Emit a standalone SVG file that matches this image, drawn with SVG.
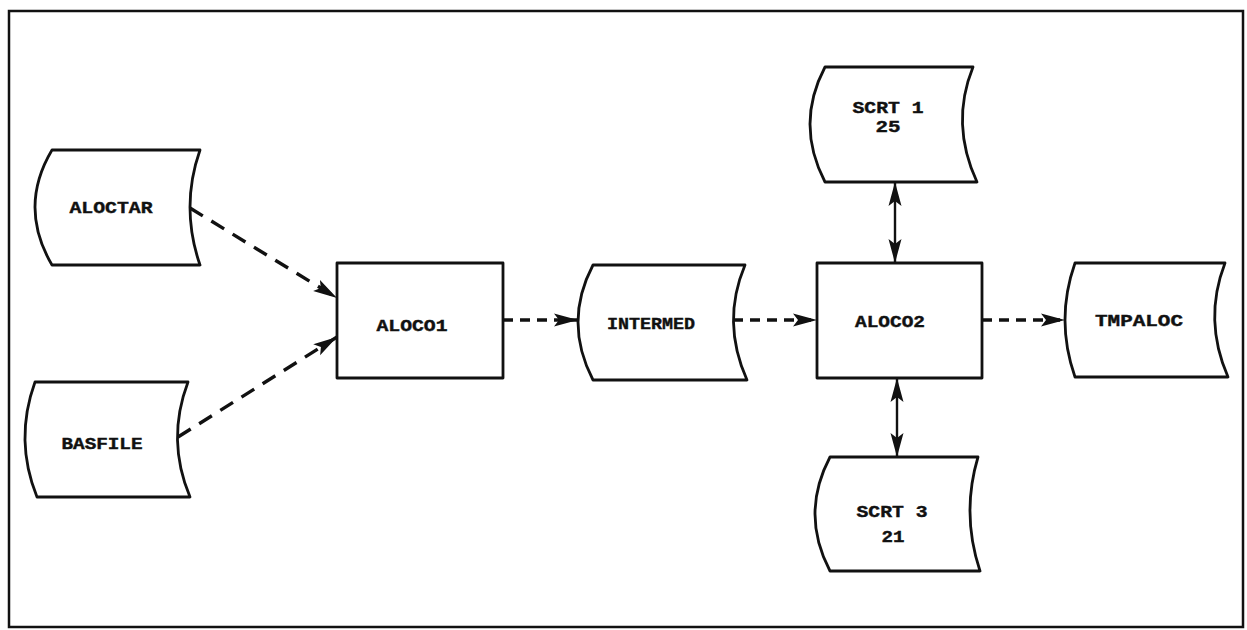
<svg xmlns="http://www.w3.org/2000/svg" width="1247" height="630" viewBox="0 0 1247 630">
<style>
.frame{fill:none;stroke:#111;stroke-width:2.5}
.node{fill:#fff;stroke:#111;stroke-width:2.8;stroke-linejoin:round}
.lbl{font-family:"Liberation Mono","DejaVu Sans Mono",monospace;font-weight:bold;font-size:16px;fill:#111;text-anchor:middle;stroke:#111;stroke-width:0.4}
.dash{fill:none;stroke:#111;stroke-width:3.4;stroke-dasharray:15 10}
.hdash{fill:none;stroke:#111;stroke-width:3.4;stroke-dasharray:10 7}
.solid{fill:none;stroke:#111;stroke-width:2.4}
</style>
<defs>
<marker id="ah" viewBox="0 0 24 14" refX="24" refY="7" markerWidth="24" markerHeight="14" markerUnits="userSpaceOnUse" orient="auto">
<path d="M0,0.5 L24,7 L0,13.5 L5,7 Z" fill="#111"/>
</marker>
<marker id="ahs" viewBox="0 0 24 14" refX="24" refY="7" markerWidth="24" markerHeight="14" markerUnits="userSpaceOnUse" orient="auto-start-reverse">
<path d="M0,0.5 L24,7 L0,13.5 L5,7 Z" fill="#111"/>
</marker>
</defs>
<rect width="1247" height="630" fill="#fff"/>
<rect class="frame" x="9" y="11" width="1234" height="616"/>

<g id="connectors">
<path class="dash" d="M190,208 L337,298" marker-end="url(#ah)"/>
<path class="dash" d="M178,437 L337,337" marker-end="url(#ah)"/>
<path class="hdash" d="M503,320 L578,320" marker-end="url(#ah)"/>
<path class="hdash" d="M733,320 L817,320" marker-end="url(#ah)"/>
<path class="hdash" d="M982,320 L1065,320" marker-end="url(#ah)"/>
<path class="solid" d="M895,182 L895,263" marker-start="url(#ahs)" marker-end="url(#ah)"/>
<path class="solid" d="M897,378 L897,457" marker-start="url(#ahs)" marker-end="url(#ah)"/>
</g>

<g id="ALOCTAR">
<path class="node" d="M52,150 L200,150 Q180,207 200,265 L52,265 Q18,207 52,150 Z"/>
<text class="lbl" x="111" y="213" textLength="83" lengthAdjust="spacingAndGlyphs">ALOCTAR</text>
</g>
<g id="BASFILE">
<path class="node" d="M35,382 L188,382 Q166,440 190,497 L37,497 Q14,440 35,382 Z"/>
<text class="lbl" x="102" y="449" textLength="81" lengthAdjust="spacingAndGlyphs">BASFILE</text>
</g>
<g id="ALOCO1">
<rect class="node" x="337" y="263" width="166" height="115"/>
<text class="lbl" x="412" y="331" textLength="71" lengthAdjust="spacingAndGlyphs">ALOCO1</text>
</g>
<g id="INTERMED">
<path class="node" d="M593,265 L745,265 Q721,322 747,380 L593,380 Q563,322 593,265 Z"/>
<text class="lbl" x="651" y="329" textLength="88" lengthAdjust="spacingAndGlyphs">INTERMED</text>
</g>
<g id="ALOCO2">
<rect class="node" x="817" y="263" width="165" height="115"/>
<text class="lbl" x="890" y="327" textLength="70" lengthAdjust="spacingAndGlyphs">ALOCO2</text>
</g>
<g id="TMPALOC">
<path class="node" d="M1075,263 L1225,263 Q1203,320 1228,377 L1075,377 Q1055,320 1075,263 Z"/>
<text class="lbl" x="1139" y="326" textLength="88" lengthAdjust="spacingAndGlyphs">TMPALOC</text>
</g>
<g id="SCRT1">
<path class="node" d="M825,67 L973,67 Q950,124 977,182 L825,182 Q795,124 825,67 Z"/>
<text class="lbl" x="888" y="113" textLength="71" lengthAdjust="spacingAndGlyphs">SCRT 1</text>
<text class="lbl" x="888" y="132" textLength="25" lengthAdjust="spacingAndGlyphs">25</text>
</g>
<g id="SCRT3">
<path class="node" d="M830,457 L978,457 Q961,514 980,571 L830,571 Q800,514 830,457 Z"/>
<text class="lbl" x="892" y="517" textLength="71" lengthAdjust="spacingAndGlyphs">SCRT 3</text>
<text class="lbl" x="893" y="542" textLength="23" lengthAdjust="spacingAndGlyphs">21</text>
</g>
</svg>
